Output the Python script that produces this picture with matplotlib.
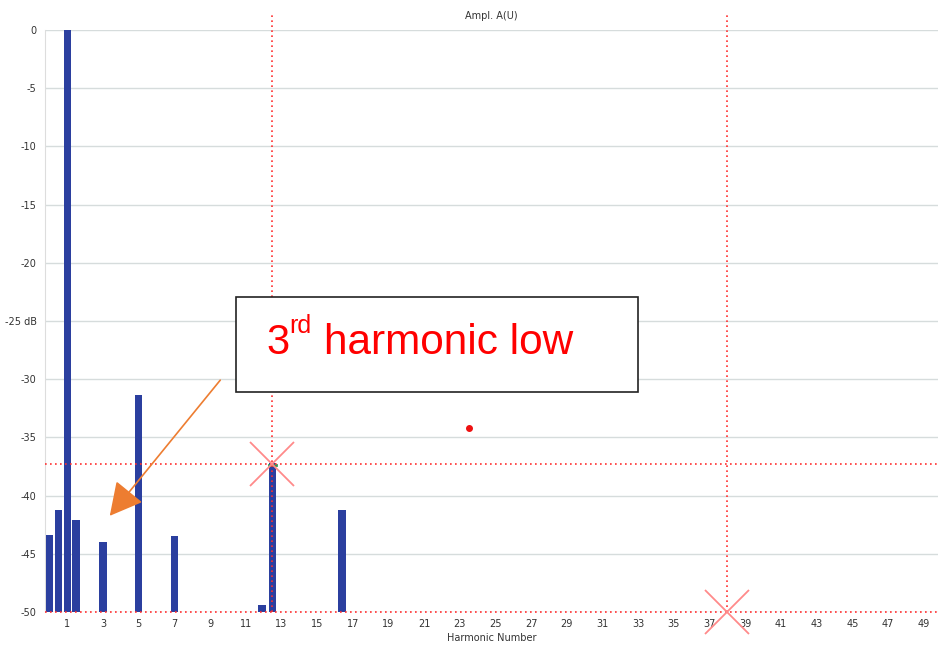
import matplotlib
matplotlib.use("Agg")
import matplotlib.pyplot as plt
from matplotlib.patches import Rectangle, FancyArrowPatch

# Spektrum-Daten
harm = [0.0, 0.5, 1.0, 1.5, 3.0, 5.0, 7.0, 11.9, 12.5, 16.4]
ampl_db = [-43.4, -41.2, 0.0, -42.1, -44.0, -31.4, -43.5, -49.4, -37.2, -41.2]

x_ticks = list(range(1, 50, 2))
y_ticks = [0, -5, -10, -15, -20, -25, -30, -35, -40, -45, -50]
y_labels = ["0", "-5", "-10", "-15", "-20", "-25 dB", "-30", "-35", "-40", "-45", "-50"]

# Cursor
cursor_x = [12.5, 38.0]
cursor_y = [-37.3, -50.0]
dot_x, dot_y = 23.5, -34.2

W, H = 939, 649
fig = plt.figure(figsize=(W / 100, H / 100), dpi=100)
ax = fig.add_axes([45 / W, 1 - 612 / H, 893 / W, 582 / H])

ax.bar(harm, [a - (-50) for a in ampl_db], bottom=-50, width=0.42,
       color="#2b3f9f", zorder=3)
ax.plot([12.3, 12.7], [-37.4, -37.4], color="#2a9a5a", lw=2, zorder=4)

ax.set_xlim(-0.25, 49.8)
ax.set_ylim(-50, 0)
ax.set_xticks(x_ticks)
ax.set_yticks(y_ticks)
ax.set_yticklabels(y_labels)
ax.tick_params(length=0, labelsize=7, labelcolor="#333333")
ax.tick_params(axis="y", pad=6)
ax.tick_params(axis="x", pad=5)
ax.grid(axis="y", color="#d6dcdc", lw=1)
ax.grid(axis="x", visible=False)
for s in ["top", "right", "bottom"]:
    ax.spines[s].set_visible(False)
ax.spines["left"].set_color("#dddddd")
ax.set_title("Ampl. A(U)", fontsize=7, pad=8, color="#333333")
ax.set_xlabel("Harmonic Number", fontsize=7, labelpad=3, color="#333333")

# Cursorlinien
for cx in cursor_x:
    ax.axvline(cx, ymax=1.025, color="#ff3030", ls=(0, (1, 2)), lw=1.2,
               clip_on=False, zorder=5)
for cy in cursor_y:
    ax.axhline(cy, color="#ff3030", ls=(0, (1, 2)), lw=1.2, zorder=5, clip_on=False)
ax.plot(cursor_x, cursor_y, "x", color="#ff8a8a", ms=32, mew=1.3, zorder=6,
        clip_on=False)
ax.plot(dot_x, dot_y, "o", color="#ee1111", ms=4, zorder=6)

# Kommentar-Box
fig.patches.append(Rectangle((236 / W, 1 - 392 / H), 402 / W, 95 / H,
                             transform=fig.transFigure, facecolor="white",
                             edgecolor="#222222", lw=1.2, zorder=10))
fig.text(266 / W, 1 - 354 / H, "3", color="#ff0000", fontsize=30,
         family="Liberation Sans", zorder=11)
fig.text(289 / W, 1 - 333 / H, "rd", color="#ff0000", fontsize=18,
         family="Liberation Sans", zorder=11)
fig.text(324 / W, 1 - 354 / H, "harmonic low", color="#ff0000", fontsize=30.5,
         family="Liberation Sans", zorder=11)

arrow = FancyArrowPatch((222 / W, 1 - 378 / H), (108 / W, 1 - 518 / H),
                        transform=fig.transFigure, arrowstyle="-|>,head_length=1.7,head_width=0.9",
                        mutation_scale=12, color="#ed7d31", lw=1.2, zorder=10)
fig.patches.append(arrow)

fig.savefig("out.png", dpi=100)
